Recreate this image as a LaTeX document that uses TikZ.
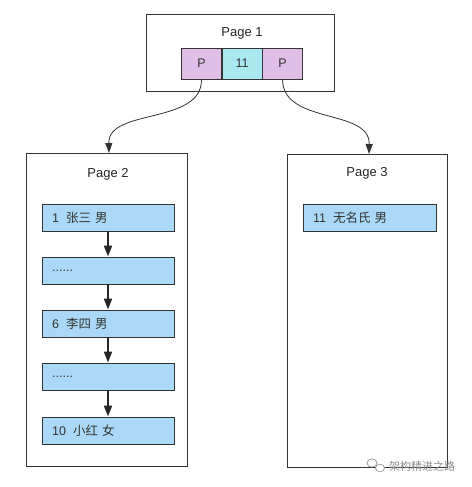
\documentclass[tikz,border=0pt]{standalone}
\usepackage{fontspec}
\setmainfont{Liberation Sans}
\newfontfamily\cjk{Noto Sans CJK SC}
\usetikzlibrary{arrows.meta}
\definecolor{pinkcell}{HTML}{E1BEE7}
\definecolor{cyancell}{HTML}{A8E8EE}
\definecolor{rowblue}{HTML}{ABD8F7}
\definecolor{edgegray}{HTML}{333333}
\tikzset{
  pagebox/.style={draw=edgegray, line width=0.9pt, fill=white},
  cellbox/.style={draw=edgegray, line width=0.9pt, minimum width=40pt, minimum height=31pt, inner sep=0pt, font=\fontsize{12.5}{14}\selectfont, text=black!80},
  rowbox/.style={draw=edgegray, line width=0.9pt, fill=rowblue, minimum width=132pt, minimum height=27pt, inner sep=0pt},
  rowtext/.style={anchor=west, inner sep=0pt, font=\fontsize{12.5}{14}\selectfont, text=black!80},
  title/.style={inner sep=0pt, font=\fontsize{13}{15}\selectfont, text=black!85},
  chain/.style={line width=1.8pt, draw=black!85, -{Triangle[length=11pt,width=8pt]}},
  link/.style={line width=0.8pt, draw=black!80, -{Triangle[length=10pt,width=7pt]}},
}
\begin{document}
\begin{tikzpicture}[x=1pt,y=-1pt]
\useasboundingbox (0,0) rectangle (471,487);
% Page 1
\node[pagebox, minimum width=188pt, minimum height=77pt, inner sep=0pt] (p1) at (240,52.5) {};
\node[title] (p1t) at (242,33) {Page 1};
\node[cellbox, fill=pinkcell] (c1) at (201.5,63.5) {P};
\node[cellbox, fill=cyancell] (c2) at (242,63.5) {11};
\node[cellbox, fill=pinkcell] (c3) at (282.5,63.5) {P};
% Page 2
\node[pagebox, minimum width=161pt, minimum height=313pt, inner sep=0pt] (p2) at (106.5,309.5) {};
\node[title] (p2t) at (108,174) {Page 2};
\node[rowbox] (r1) at (108,217.5) {};
\node[rowbox] (r2) at (108,270.5) {};
\node[rowbox] (r3) at (108,323.5) {};
\node[rowbox] (r4) at (108,376.5) {};
\node[rowbox] (r5) at (108,430.5) {};
\node[rowtext] (t1) at (52,217.5) {1\hspace{7pt}{\cjk 张三}\hspace{4pt}{\cjk 男}};
\node[rowtext] (t2) at (52,270.5) {......};
\node[rowtext] (t3) at (52,323.5) {6\hspace{7pt}{\cjk 李四}\hspace{4pt}{\cjk 男}};
\node[rowtext] (t4) at (52,376.5) {......};
\node[rowtext] (t5) at (52,430.5) {10\hspace{7pt}{\cjk 小红}\hspace{4pt}{\cjk 女}};
\draw[chain] (r1) -- (r2);
\draw[chain] (r2) -- (r3);
\draw[chain] (r3) -- (r4);
\draw[chain] (r4) -- (r5);
% Page 3
\node[pagebox, minimum width=160pt, minimum height=313pt, inner sep=0pt] (p3) at (367,310.5) {};
\node[title] (p3t) at (367,173) {Page 3};
\node[rowbox, minimum width=133pt] (q1) at (369.5,217.5) {};
\node[rowtext] (u1) at (313,217.5) {11\hspace{7pt}{\cjk 无名氏}\hspace{4pt}{\cjk 男}};
% links
\coordinate (a1) at (109,153);
\coordinate (a2) at (369,154);
\draw[link] (c1.south) .. controls (202,125) and (108,108) .. (a1);
\draw[link] (c3.south) .. controls (283,125) and (370,108) .. (a2);
% watermark
\node[inner sep=0pt] (wm) at (422,466) {\fontsize{11}{13}\selectfont\color{black!45}{\cjk 架构精进之路}};
\draw[black!40, line width=0.7pt] (372,463) ellipse (5pt and 4.2pt);
\draw[black!40, line width=0.7pt, fill=white] (380,468) ellipse (4.5pt and 3.8pt);
\end{tikzpicture}
\end{document}
